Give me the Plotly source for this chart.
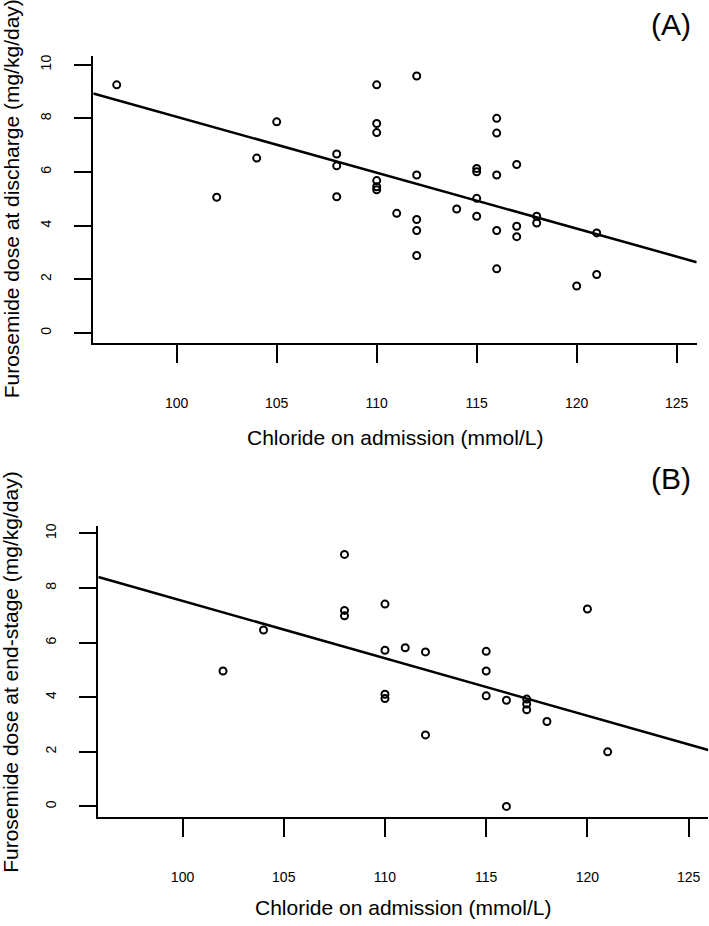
import numpy as np
import plotly.graph_objects as go

# ---- Data ----
# Panel A: chloride on admission vs furosemide dose at discharge
chloride_A = [97, 102, 104, 105, 108, 108, 108, 110, 110, 110, 110, 110, 110, 111,
              112, 112, 112, 112, 112, 114, 115, 115, 115, 115,
              116, 116, 116, 116, 116, 117, 117, 117, 118, 118, 120, 121, 121]
dose_A = [9.25, 5.06, 6.52, 7.87, 6.67, 6.23, 5.08, 9.25, 7.81, 7.47, 5.68, 5.45, 5.34, 4.46,
          9.58, 5.89, 4.23, 3.82, 2.89, 4.62, 6.13, 6.01, 5.02, 4.35,
          8.0, 7.45, 5.89, 3.82, 2.39, 6.28, 3.98, 3.59, 4.35, 4.10, 1.75, 3.73, 2.18]
fit_A = (28.91, -0.2085)   # intercept, slope of the drawn regression line

# Panel B: chloride on admission vs furosemide dose at end-stage
chloride_B = [102, 104, 108, 108, 108, 110, 110, 110, 110, 111, 112, 112,
              115, 115, 115, 116, 116, 117, 117, 117, 118, 120, 121]
dose_B = [4.96, 6.46, 9.23, 7.18, 6.98, 7.41, 5.72, 4.11, 3.95, 5.81, 5.66, 2.62,
          5.68, 4.96, 4.05, 3.89, 0.0, 3.93, 3.75, 3.54, 3.11, 7.23, 2.0]
fit_B = (28.57, -0.2104)

x_ticks = [100, 105, 110, 115, 120, 125]
y_ticks = [0, 2, 4, 6, 8, 10]

x_title = "Chloride on admission (mmol/L)"
y_title_A = "Furosemide dose at discharge (mg/kg/day)"
y_title_B = "Furosemide dose at end-stage (mg/kg/day)"
panel_labels = ["(A)", "(B)"]

W, H = 709, 926
FONT = "Liberation Sans, Arial, sans-serif"

xr_A = [95.83, 126.0]
yr_A = [-0.37, 10.32]
xr_B = [95.84, 125.97]
yr_B = [-0.39, 10.26]

fig = go.Figure()

def add_panel(xs, ys, fit, xr, xa, ya):
    fig.add_trace(go.Scatter(
        x=xs, y=ys, mode="markers", xaxis=xa, yaxis=ya,
        marker=dict(symbol="circle-open", size=7, color="black",
                    line=dict(width=2, color="black")),
        hoverinfo="skip", showlegend=False))
    lx = np.array(xr)
    fig.add_trace(go.Scatter(
        x=lx, y=fit[0] + fit[1] * lx, mode="lines", xaxis=xa, yaxis=ya,
        line=dict(color="black", width=2.5),
        hoverinfo="skip", showlegend=False, cliponaxis=True))

add_panel(chloride_A, dose_A, fit_A, xr_A, "x", "y")
add_panel(chloride_B, dose_B, fit_B, xr_B, "x2", "y2")

def px_x(p):
    return p / W

def px_y(p):
    return 1 - p / H

common_x = dict(showline=True, linecolor="black", linewidth=2, mirror=False,
                ticks="outside", ticklen=18, tickwidth=2, tickcolor="black",
                tickvals=x_ticks, showgrid=False, zeroline=False,
                tickfont=dict(family=FONT, size=14, color="black"),
                ticklabelstandoff=28)
common_y = dict(showline=True, linecolor="black", linewidth=2, mirror=False,
                ticks="outside", ticklen=17, tickwidth=2, tickcolor="black",
                tickvals=y_ticks, showgrid=False, zeroline=False, tickangle=-90,
                tickfont=dict(family=FONT, size=14, color="black"),
                ticklabelstandoff=18)

fig.update_layout(
    width=W, height=H,
    margin=dict(l=0, r=0, t=0, b=0),
    paper_bgcolor="white", plot_bgcolor="white",
    xaxis=dict(domain=[px_x(93.3), px_x(696.7)], range=xr_A, anchor="y", **common_x),
    yaxis=dict(domain=[px_y(341), px_y(53.3)], range=yr_A, anchor="x", **common_y),
    xaxis2=dict(domain=[px_x(98.3), px_x(708.3)], range=xr_B, anchor="y2", **common_x),
    yaxis2=dict(domain=[px_y(816.7), px_y(525)], range=yr_B, anchor="x2", **common_y),
)

annos = [
    dict(text=x_title, x=px_x(395), y=px_y(436)),
    dict(text=x_title, x=px_x(403), y=px_y(907)),
    dict(text=y_title_A, x=px_x(11), y=px_y(197), textangle=-90),
    dict(text=y_title_B, x=px_x(11), y=px_y(671), textangle=-90),
]
for a in annos:
    fig.add_annotation(xref="paper", yref="paper", showarrow=False,
                       xanchor="center", yanchor="middle",
                       font=dict(family=FONT, size=21, color="black"), **a)

for lbl, yy in zip(panel_labels, [22, 477]):
    fig.add_annotation(xref="paper", yref="paper", showarrow=False,
                       x=px_x(671), y=px_y(yy), xanchor="center", yanchor="middle",
                       text=lbl, font=dict(family=FONT, size=30, color="black"))

fig.write_html("out.html", config={"displayModeBar": False},
               post_script="document.body.style.margin='0px';")
